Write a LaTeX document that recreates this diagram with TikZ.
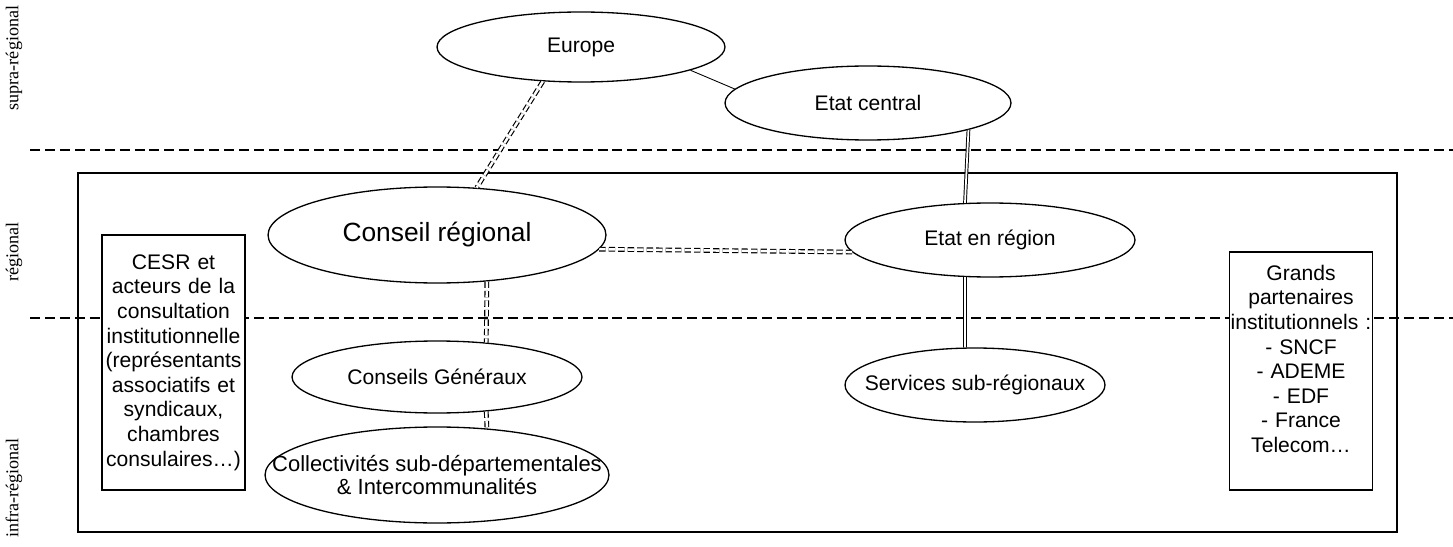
\documentclass[tikz,border=0pt]{standalone}
\usepackage{fontspec}
\setmainfont{Liberation Sans}
\newfontfamily\niveaufont{Liberation Serif}
\usepackage{tikz}
\usetikzlibrary{shapes.geometric}

\begin{document}
\begin{tikzpicture}[x=0.02cm,y=-0.02cm,
  acteur/.style={shape=ellipse,draw=black,line width=0.75pt,inner xsep=-30pt,inner ysep=0pt,font=\fontsize{12}{14}\selectfont},
  boite/.style={draw=black,fill=white,line width=0.6pt,inner xsep=0.2pt,inner ysep=0.6pt,align=center,text width=81pt,font=\fontsize{12}{14}\selectfont},
  niveau/.style={rotate=90,font=\niveaufont\fontsize{10.3}{12}\selectfont},
  limite/.style={line width=1.4pt,dash pattern=on 5.7pt off 2.8pt},
  lien/.style={draw,line width=0.5pt},
  lienfort/.style={draw,line width=0.55pt,double,double distance=1pt},
  lienfaible/.style={draw,line width=0.65pt,double,double distance=1.4pt,dash pattern=on 3.6pt off 1.8pt}]
\useasboundingbox (0,0) rectangle (1453,547);

\node[niveau] (supra) at (14,58) {supra-régional};
\node[niveau] (reg) at (14,252) {régional};
\node[niveau] (infra) at (14,488) {infra-régional};

\draw[limite] (30,150) -- (1453,150);
\draw[limite] (30,318) -- (1453,318);
\draw[line width=0.6pt] (78,173) rectangle (1397,532);

\node[boite,minimum height=5.1cm] (cesr) at (173.5,362.5) {CESR et\\ acteurs de la\\ consultation\\ institutionnelle\\ (représentants\\ associatifs et\\ syndicaux,\\ chambres\\ consulaires…)};
\node[boite,minimum height=4.76cm] (partenaires) at (1301,371) {Grands\\ partenaires\\ institutionnels~:\\ - SNCF\\ - ADEME\\ - EDF\\ - France\\ Telecom…\\ \mbox{}};

\node[acteur,minimum width=5.76cm,minimum height=1.4cm] (europe) at (581,47) {Europe};
\node[acteur,minimum width=5.72cm,minimum height=1.48cm] (etatc) at (868,103) {Etat central};
\node[acteur,minimum width=6.76cm,minimum height=1.92cm,font=\fontsize{15}{18}\selectfont] (cr) at (437,235) {Conseil régional};
\node[acteur,minimum width=5.8cm,minimum height=1.48cm] (etatr) at (990,240) {Etat en région};
\node[acteur,minimum width=5.8cm,minimum height=1.44cm] (cg) at (437,377) {Conseils Généraux};
\node[acteur,minimum width=5.2cm,minimum height=1.48cm] (ssr) at (975,385) {Services sub-régionaux};
\node[acteur,minimum width=6.88cm,minimum height=1.92cm,align=center,font=\fontsize{12.5}{12.8}\selectfont] (coll) at (437,475) {Collectivités sub-départementales\\ \& Intercommunalités};

\path (europe.-12.8) edge[lien] (etatc.174.5);
\path (europe.-138) edge[lienfaible] (cr.50.2);
\path (etatc.-15.6) edge[lienfort] (etatr.124.8);
\path (etatr.-124.8) edge[lienfort] (ssr.105.2);
\path (cr.-5.6) edge[lienfaible] (etatr.-175.4);
\path (cr.-43.8) edge[lienfaible] (cg.35.3);
\path (cg.-35.3) edge[lienfaible] (coll.43.8);

\end{tikzpicture}
\end{document}
